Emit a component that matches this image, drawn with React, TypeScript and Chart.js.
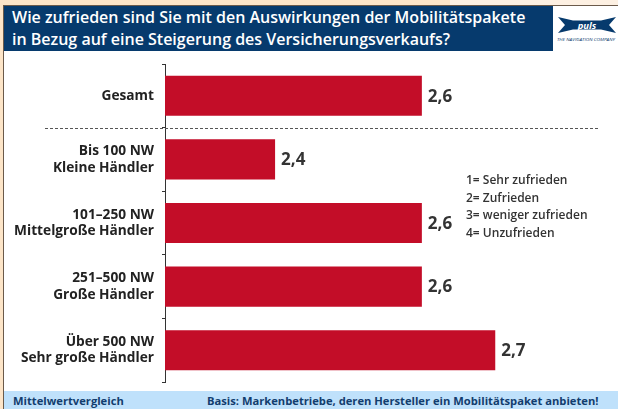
import { useEffect, useRef } from "react";
import { Chart, registerables } from "chart.js";

Chart.register(...registerables);

const titleLines = [
  "Wie zufrieden sind Sie mit den Auswirkungen der Mobilitätspakete",
  "in Bezug auf eine Steigerung des Versicherungsverkaufs?",
];
const categories = [
  ["Gesamt"],
  ["Bis 100 NW", "Kleine Händler"],
  ["101–250 NW", "Mittelgroße Händler"],
  ["251–500 NW", "Große Händler"],
  ["Über 500 NW", "Sehr große Händler"],
];
const values = [2.6, 2.4, 2.6, 2.6, 2.7];
const legendLines = ["1= Sehr zufrieden", "2= Zufrieden", "3= weniger zufrieden", "4= Unzufrieden"];
const footerLeft = "Mittelwertvergleich";
const footerRight = "Basis: Markenbetriebe, deren Hersteller ein Mobilitätspaket anbieten!";
const logoWord = "puls";
const logoTagline = "THE NAVIGATION COMPANY";
const xMin = 2.25;
const xMax = 2.84;

const NAVY = "#063a6d";
const RED = "#c30d28";
const FONT = "'Open Sans', 'Noto Sans', sans-serif";

const overlayPlugin = {
  id: "overlay",
  afterDatasetsDraw(chart: any) {
    const { ctx } = chart;
    const yScale = chart.scales.y;
    // dashed separator between Gesamt and the groups
    const ySep = Math.round((yScale.getPixelForValue(0) + yScale.getPixelForValue(1)) / 2) + 0.5;
    ctx.save();
    ctx.strokeStyle = "#555";
    ctx.lineWidth = 1;
    ctx.setLineDash([3, 2]);
    ctx.beginPath();
    ctx.moveTo(45, ySep);
    ctx.lineTo(chart.chartArea.right, ySep);
    ctx.stroke();
    ctx.setLineDash([]);
    // value labels
    const meta = chart.getDatasetMeta(0);
    ctx.fillStyle = "#333";
    ctx.font = `bold 17px ${FONT}`;
    ctx.textAlign = "left";
    ctx.textBaseline = "middle";
    meta.data.forEach((bar: any, i: number) => {
      const v = chart.data.datasets[0].data[i] as number;
      ctx.fillText(v.toFixed(1).replace(".", ","), bar.x + 6, bar.y + 1);
    });
    ctx.restore();
  },
};

function ChartCanvas() {
  const ref = useRef<HTMLCanvasElement | null>(null);
  useEffect(() => {
    if (!ref.current) return;
    const chart = new Chart(ref.current, {
      type: "bar",
      data: {
        labels: categories as any,
        datasets: [
          {
            data: values,
            backgroundColor: RED,
            borderWidth: 0,
            barPercentage: 0.63,
            categoryPercentage: 1,
          },
        ],
      },
      options: {
        indexAxis: "y",
        animation: false,
        responsive: false,
        maintainAspectRatio: false,
        layout: { padding: { top: 12, bottom: 9, right: 20, left: 0 } },
        plugins: { legend: { display: false }, tooltip: { enabled: false } },
        scales: {
          x: { display: false, min: xMin, max: xMax },
          y: {
            afterFit: (scale: any) => {
              scale.width = 165;
              scale.paddingTop = 0;
              scale.paddingBottom = 0;
            },
            grid: {
              display: true,
              drawOnChartArea: false,
              drawTicks: true,
              tickLength: 3,
              color: "#333",
              offset: true,
            },
            border: { display: true, color: "#333", width: 1 },
            ticks: {
              color: "#222",
              padding: 8,
              font: { family: FONT, size: 13.7, weight: "bold", lineHeight: 1.2 },
            },
          },
        },
      },
      plugins: [overlayPlugin],
    });
    return () => chart.destroy();
  }, []);
  return (
    <canvas
      ref={ref}
      width={618}
      height={339}
      style={{ position: "absolute", left: 0, top: 52, width: 618, height: 339 }}
    />
  );
}

export default function App() {
  return (
    <div
      style={{
        position: "fixed",
        left: 0,
        top: 0,
        width: 618,
        height: 409,
        background: "#fde5c8",
        overflow: "hidden",
        fontFamily: FONT,
      }}
    >
      <div style={{ position: "absolute", left: 450, top: 0, width: 168, height: 5, background: "#fdf0e2" }} />
      <div style={{ position: "absolute", left: 3, top: 5, width: 615, height: 1, background: "#6b5a4a" }} />
      <div style={{ position: "absolute", left: 3, top: 5, width: 1, height: 404, background: "#6b5a4a" }} />
      <div style={{ position: "absolute", left: 4, top: 6, width: 614, height: 385, background: "#fff" }} />
      <div style={{ position: "absolute", left: 4, top: 6, width: 549, height: 45, background: NAVY }}>
        <div
          style={{
            position: "absolute",
            left: 8,
            top: 0,
            color: "#fff",
            fontWeight: 600,
            fontSize: 16,
            lineHeight: "22px",
            whiteSpace: "nowrap",
          }}
        >
          {titleLines.map((t, i) => (
            <div key={i}>{t}</div>
          ))}
        </div>
      </div>
      <svg
        style={{ position: "absolute", left: 553, top: 6 }}
        width={65}
        height={45}
        viewBox="0 0 65 45"
      >
        <polygon points="5,11 20,14.5 48,14.5 63,11 56,19 63,27 48,23.5 20,23.5 5,27 12,19" fill={NAVY} />
        <text
          x={34}
          y={22.5}
          fill="#fff"
          fontSize={9.5}
          fontWeight="bold"
          fontStyle="italic"
          textAnchor="middle"
          fontFamily={FONT}
        >
          {logoWord}
        </text>
        <text
          x={33}
          y={35}
          fill={NAVY}
          fontSize={4.3}
          textAnchor="middle"
          fontFamily={FONT}
          fontStyle="italic"
          textLength={58}
          lengthAdjust="spacingAndGlyphs"
        >
          {logoTagline}
        </text>
      </svg>
      <ChartCanvas />
      <div
        style={{
          position: "absolute",
          left: 466,
          top: 171,
          color: "#333",
          fontWeight: 600,
          fontSize: 12,
          lineHeight: "17.5px",
          whiteSpace: "nowrap",
        }}
      >
        {legendLines.map((t, i) => (
          <div key={i}>{t}</div>
        ))}
      </div>
      <div
        style={{
          position: "absolute",
          left: 4,
          top: 391,
          width: 614,
          height: 18,
          background: "#bfe1fb",
          color: "#123d6e",
          fontWeight: "bold",
          fontSize: 11.2,
          lineHeight: "20px",
          whiteSpace: "nowrap",
        }}
      >
        <span style={{ position: "absolute", left: 9, top: 0 }}>{footerLeft}</span>
        <span style={{ position: "absolute", left: 203, top: 0 }}>{footerRight}</span>
      </div>
    </div>
  );
}
